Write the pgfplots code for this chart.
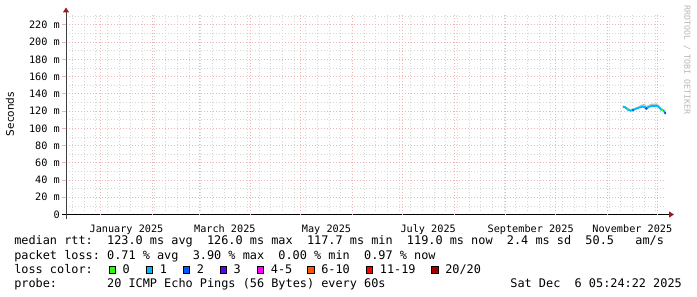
\documentclass[border=0pt]{standalone}
\usepackage{pgfplots}
\pgfplotsset{compat=1.18}
\usepackage{fontspec}
\setmainfont{DejaVu Sans}
\newfontfamily\monofont{DejaVu Sans Mono}
\usetikzlibrary{arrows.meta}
\definecolor{lc0}{HTML}{26FF00}
\definecolor{lc1}{HTML}{00B8FF}
\definecolor{lc2}{HTML}{0059FF}
\definecolor{lc3}{HTML}{5E00FF}
\definecolor{lc4}{HTML}{FF00FF}
\definecolor{lc6}{HTML}{FF5500}
\definecolor{lc11}{HTML}{FF0000}
\definecolor{lc20}{HTML}{A10000}
\definecolor{mgrid}{HTML}{EFB4B4}
\definecolor{mingrid}{HTML}{D6D6D6}
\definecolor{arrowc}{HTML}{9E1B1B}
\definecolor{smoke}{HTML}{C4C4C4}
\newcommand\legfont{\monofont\fontsize{11.86bp}{14bp}\selectfont}
\newcommand\tickfont{\monofont\fontsize{10.2bp}{12bp}\selectfont}
\begin{document}
\frenchspacing
\begin{tikzpicture}
\useasboundingbox (0,0) rectangle (697bp,297bp);
\fill[white] (0,0) rectangle (697bp,297bp);
\begin{axis}[
  at={(66bp,82.5bp)}, anchor=south west,
  scale only axis, width=600bp, height=200bp,
  xmin=-20.8, xmax=339.2, ymin=0, ymax=232,
  axis x line*=bottom, axis y line*=left,
  x axis line style={line width=1bp, draw=black, -{Triangle[length=5bp,width=6bp,color=arrowc]}, shorten >=-8bp, shorten <=-4bp},
  y axis line style={line width=1bp, draw=black!75, -{Triangle[length=5bp,width=6bp,color=arrowc]}, shorten >=-7bp, shorten <=-4bp},
  xtick={15.5,74.5,135.5,196.5,258,319},
  xticklabels={January 2025,March 2025,May 2025,July 2025,September 2025,November 2025},
  xtick style={draw=none},
  xticklabel style={font=\tickfont, anchor=base, inner sep=0pt, yshift=-13.5bp},
  ytick={0,20,...,220},
  yticklabels={0,20 m,40 m,60 m,80 m,100 m,120 m,140 m,160 m,180 m,200 m,220 m},
  ytick style={draw=mgrid, line width=0.8bp},
  tick align=outside, major tick length=4bp, minor tick length=0pt,
  yticklabel style={font=\tickfont, anchor=east, inner sep=0pt, xshift=-2bp},
  minor xtick={-17,-10,...,339},
  minor ytick={10,30,...,230},
  xmajorgrids=false, ymajorgrids=true, xminorgrids=true, yminorgrids=true,
  major grid style={draw=mgrid, line width=0.7bp, dash pattern=on 1bp off 2bp},
  minor grid style={draw=mingrid, line width=0.7bp, dash pattern=on 1bp off 2bp},
  extra x ticks={0,31,59,90,120,151,181,212,243,273,304,334},
  extra x tick labels={},
  extra x tick style={grid=major, tick style={draw=none}},
]
% smoke band
\addplot[fill=smoke, draw=none] coordinates {
 (313.3,126.6) (315.5,124.8) (317.9,122.2) (319.8,123.0) (322.4,125.2) (324.5,127.6) (326.4,128.4)
 (327.4,126.0) (328.8,127.0) (330.4,128.6) (333.8,128.8) (334.8,127.2) (336.4,124.0)
 (337.8,122.0) (339.1,118.4)
 (339.1,116.2) (337.8,119.6) (336.4,120.8) (334.8,123.8) (333.8,125.2) (330.4,125.2)
 (328.8,123.8) (327.4,122.0) (326.4,123.8) (324.5,124.0) (322.4,122.8) (319.8,120.8)
 (317.9,119.6) (315.5,122.2) (313.3,124.4)
};
% median line (1/20 loss)
\addplot[lc1, line width=1.8bp] coordinates {
 (313.3,125.0) (314.5,124.5) (315.5,123.0) (316.5,121.5) (317.9,120.4) (319.0,120.8)
 (319.8,121.6) (320.8,122.4) (322.4,123.6) (323.8,124.3) (325.2,125.1) (326.4,124.7)
 (327.4,122.8) (328.8,124.7) (330.4,126.0) (331.8,126.0) (333.8,126.0) (334.8,124.7)
 (336.4,121.6) (337.8,120.4) (338.8,117.5) (339.1,117.0)
};
% 0 loss segments
\addplot[lc0, line width=1.8bp] coordinates {(315.7,122.7) (316.7,121.4)};
\addplot[lc0, line width=1.8bp] coordinates {(336.2,122.0) (337.4,120.7)};
% 2 loss segments
\addplot[lc2, line width=1.8bp] coordinates {(319.0,120.8) (319.8,121.6)};
\addplot[lc2, line width=1.8bp] coordinates {(326.9,123.8) (327.4,122.8) (327.9,123.5)};
\addplot[lc2, line width=1.8bp] coordinates {(338.4,118.7) (338.8,117.5) (339.1,117.0)};
\end{axis}
% y axis title
\node[rotate=90, font=\fontsize{10.5bp}{12bp}\selectfont] at (10bp,183bp) {Seconds};
% watermark
\node[rotate=-90, text=black!28, font=\monofont\fontsize{8.3bp}{9bp}\selectfont] at (687bp,237bp) {RRDTOOL / TOBI OETIKER};
% legend lines
\node[anchor=base west, inner sep=0pt, font=\legfont] at (14.1bp,52bp) {median~rtt:~~123.0~ms~avg~~126.0~ms~max~~117.7~ms~min~~119.0~ms~now~~2.4~ms~sd~~50.5~~~am/s};
\node[anchor=base west, inner sep=0pt, font=\legfont] at (14.1bp,37.8bp) {packet~loss:~0.71~\%~avg~~3.90~\%~max~~0.00~\%~min~~0.97~\%~now};
\node[anchor=base west, inner sep=0pt, font=\legfont] at (14.1bp,23.7bp) {loss~color:};
\node[anchor=base west, inner sep=0pt, font=\legfont] at (14.1bp,9.6bp) {probe:~~~~~~~20~ICMP~Echo~Pings~(56~Bytes)~every~60s};
\node[anchor=base east, inner sep=0pt, font=\legfont] at (682bp,9.6bp) {Sat~Dec~~6~05:24:22~2025};
% loss colour boxes
\foreach \bx/\col/\lab in {108.5/lc0/0, 145.8/lc1/1, 182.8/lc2/2, 219.5/lc3/3, 256.8/lc4/4-5, 307.2/lc6/6-10, 365.8/lc11/11-19, 431.2/lc20/{20/20}}{
  \filldraw[fill=\col, draw=black, line width=0.9bp] (\bx bp+0.45bp,23.6bp) rectangle (\bx bp+6.85bp,30.4bp);
  \node[anchor=base west, inner sep=0pt, font=\legfont] at (\bx bp+13.9bp,23.7bp) {\lab};
}
\end{tikzpicture}
\end{document}
